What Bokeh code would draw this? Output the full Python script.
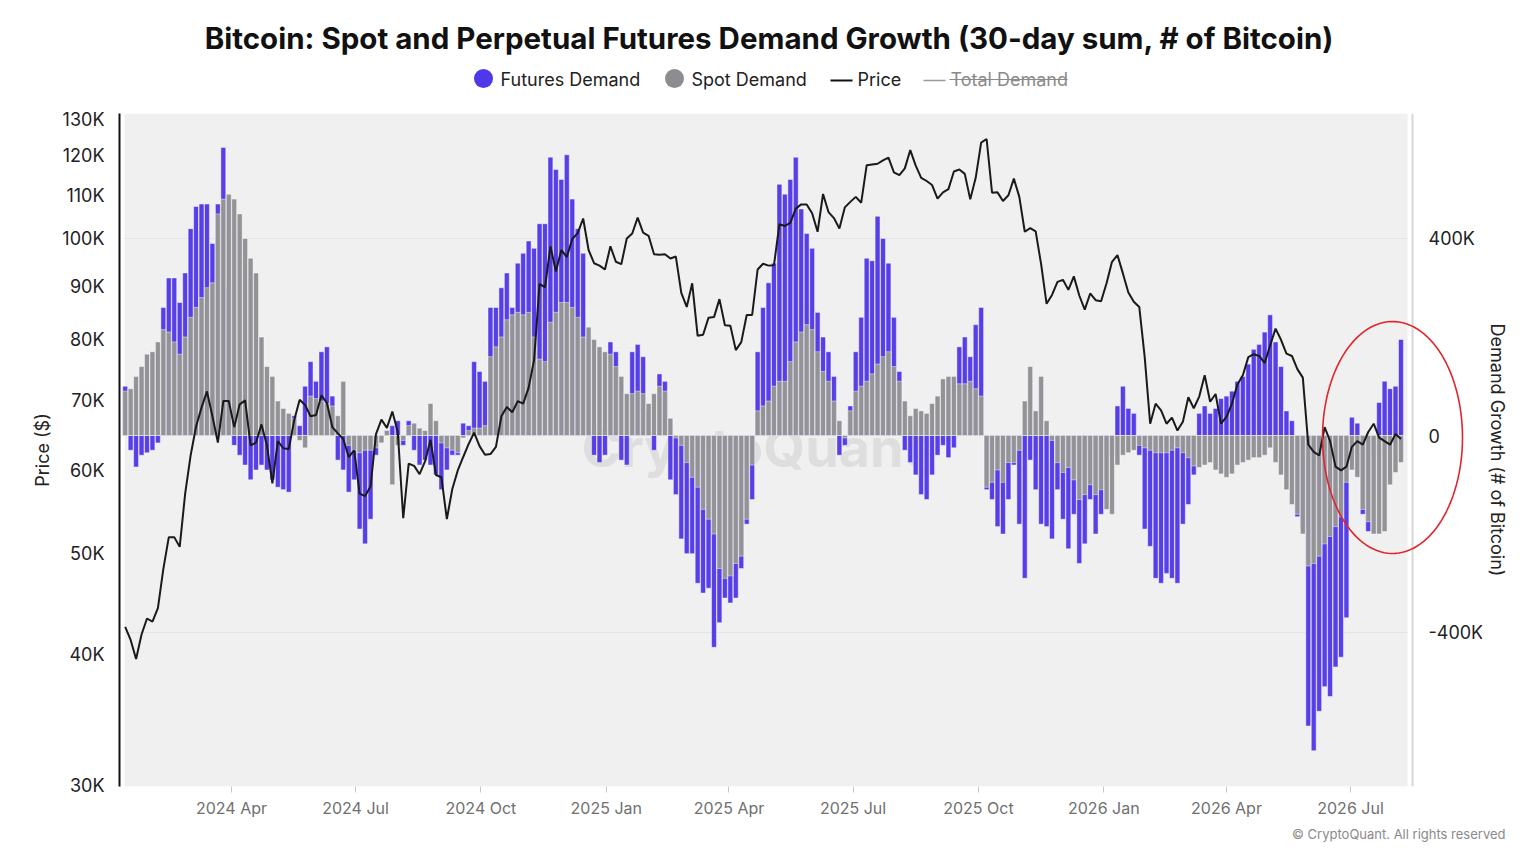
import numpy as np
import pandas as pd
from bokeh.plotting import figure
from bokeh.layouts import column
from bokeh.models import (Range1d, LinearAxis, LinearScale, FixedTicker, Label, Title,
                          PolyAnnotation, Arrow, BoxAnnotation, Span)
from bokeh.embed import file_html
from bokeh.resources import INLINE

# ---------------- data ----------------
START_DATE = "2024-01-14"
STEP_DAYS = 4

price_k = [
    42.5, 41.3, 39.6, 41.8, 43.3, 43.0, 44.3, 48.3, 51.8, 51.8, 50.7, 57.0, 62.0, 66.1, 68.9, 71.4,
    67.6, 63.8, 69.9, 69.9, 66.0, 69.4, 70.0, 63.4, 63.8, 66.4, 63.4, 58.3, 64.0, 63.0, 62.9, 67.0,
    70.1, 69.3, 67.6, 67.8, 70.8, 69.6, 66.0, 65.1, 64.3, 61.8, 62.7, 57.0, 56.7, 57.9, 65.0, 67.1,
    65.9, 68.3, 65.3, 54.0, 60.9, 60.6, 59.5, 61.2, 64.2, 59.4, 59.1, 53.9, 57.6, 60.0, 61.8, 63.6,
    65.2, 63.3, 62.1, 62.2, 63.2, 67.6, 69.0, 68.2, 69.9, 69.5, 72.0, 76.5, 90.5, 89.8, 98.3, 93.0,
    97.5, 96.0, 99.9, 101.2, 104.5, 97.5, 94.7, 94.2, 93.4, 98.3, 95.0, 94.5, 100.0, 101.1, 104.7, 101.3,
    100.6, 96.6, 96.5, 96.6, 95.7, 96.1, 88.7, 86.0, 90.6, 80.7, 80.9, 84.0, 84.1, 87.5, 82.6, 82.5,
    78.2, 79.6, 84.5, 84.5, 93.4, 94.6, 94.2, 94.3, 103.2, 102.8, 103.5, 106.8, 107.8, 107.8, 105.7, 101.5,
    110.3, 106.0, 104.6, 102.2, 107.1, 108.4, 109.6, 108.2, 117.5, 117.7, 117.9, 118.8, 119.5, 115.7, 115.0, 116.7,
    121.5, 117.4, 114.3, 113.5, 112.5, 109.2, 110.7, 111.5, 115.9, 116.4, 115.3, 109.0, 114.3, 123.5, 124.5, 110.6,
    110.7, 108.6, 110.0, 114.1, 109.6, 101.5, 102.3, 101.6, 94.5, 86.6, 88.3, 90.9, 91.3, 89.3, 92.0, 88.2,
    85.5, 88.6, 87.3, 87.1, 90.6, 95.0, 96.4, 92.6, 88.8, 87.0, 86.0, 77.0, 66.5, 69.5, 68.5, 66.5,
    67.4, 65.5, 66.8, 70.5, 68.8, 70.6, 74.0, 69.8, 71.0, 66.5, 67.5, 69.5, 72.5, 74.0, 77.0, 77.5,
    77.2, 76.0, 79.0, 82.0, 80.0, 77.6, 77.2, 75.0, 73.6, 63.5, 62.5, 62.0, 66.0, 64.0, 60.5, 60.0,
    60.5, 63.2, 64.0, 63.5, 65.3, 66.5, 64.5, 64.0, 63.5, 65.0, 64.3,
]

futures_k = [
    100, -30, -64, -40, -35, -30, -15, 260, 320, 320, 270, 330, 420, 465, 470, 470,
    390, 470, 585, 300, -20, -40, -60, -90, -70, -60, -70, -90, -105, -110, -115, 40,
    20, 100, 150, 110, 170, 180, 80, -50, -70, -115, -90, -190, -220, -170, -40, -10,
    10, 20, 30, -20, 30, -30, -60, -50, -60, -80, -110, -70, -40, -40, 25, 20,
    150, 130, 110, 260, 260, 300, 330, 260, 350, 370, 395, 380, 430, 430, 565, 540,
    520, 570, 480, 420, 370, 200, -40, -55, -40, 190, 170, -50, -60, 170, 185, 160,
    50, -30, 125, 110, -90, -120, -210, -240, -240, -300, -320, -310, -430, -380, -330, -340,
    -330, -270, -180, -130, 170, 260, 310, 350, 510, 490, 520, 565, 460, 410, 380, 250,
    200, 170, 120, -40, -20, 60, 170, 240, 360, 355, 445, 400, 350, 240, 130, -30,
    -55, -80, -120, -130, -80, -40, -20, -45, -25, 180, 200, 160, 225, 260, -110, -130,
    -185, -200, -130, -60, -180, -290, -50, -110, -180, -185, -210, -110, -170, -230, -160, -260,
    -220, -130, -200, -160, -90, -40, 60, 100, 55, 45, -40, -190, -225, -290, -300, -280,
    -290, -300, -180, -140, -80, 45, 60, 45, 55, 75, 80, 90, 110, 120, 145, 175,
    185, 210, 245, 190, 140, 50, 30, -165, -190, -590, -640, -560, -510, -530, -470, -450,
    -370, 37, 25, -160, -195, -40, 67, 110, 95, 100, 195,
]

spot_k = [
    90, 95, 120, 140, 165, 170, 190, 215, 210, 190, 165, 200, 240, 260, 280, 300,
    310, 450, 480, 490, 480, 450, 400, 360, 330, 200, 140, 120, 70, 55, 45, 35,
    -10, -25, 80, 75, 70, 65, 60, 40, 110, -20, -30, -35, -30, -30, -25, -15,
    10, -100, -20, -10, 20, 25, 15, 10, 65, 30, -15, -25, -30, -35, -5, 10,
    15, 15, 20, 160, 180, 200, 235, 245, 250, 245, 250, 200, 155, 150, 230, 250,
    270, 270, 260, 240, 200, 220, 195, 180, 170, 165, 140, 120, 85, 85, 90, 85,
    65, 85, 100, 90, 35, -5, -20, -55, -85, -105, -150, -170, -200, -270, -290, -285,
    -260, -245, -170, -60, 50, 60, 70, 100, 110, 110, 150, 190, 210, 225, 215, 170,
    130, 110, 70, 30, -5, 50, 90, 100, 110, 125, 145, 160, 170, 140, 110, 70,
    40, 55, 50, 45, 65, 80, 115, 120, 120, 105, 105, 110, 95, 80, -105, -95,
    -70, -95, -55, -55, -30, 70, 140, 50, 120, 30, -10, -55, -75, -65, -90, -130,
    -120, -100, -120, -110, -150, -160, -60, -40, -35, -30, -20, -25, -30, -35, -35, -35,
    -30, -25, -35, -45, -62, -65, -60, -55, -70, -78, -85, -78, -60, -55, -50, -45,
    -45, -40, -25, -55, -80, -110, -140, -160, -200, -265, -260, -245, -220, -205, -185, -165,
    -95, -70, -85, -150, -175, -200, -200, -195, -100, -75, -55,
]

left_ticks = [30000, 40000, 50000, 60000, 70000, 80000, 90000, 100000, 110000, 120000, 130000]
left_tick_labels = ["30K", "40K", "50K", "60K", "70K", "80K", "90K", "100K", "110K", "120K", "130K"]
right_ticks = [-400000, 0, 400000]
right_tick_labels = ["-400K", "0", "400K"]
x_tick_dates = ["2024-04-01", "2024-07-01", "2024-10-01", "2025-01-01", "2025-04-01",
                "2025-07-01", "2025-10-01", "2026-01-01", "2026-04-01", "2026-07-01"]
x_tick_labels = ["2024 Apr", "2024 Jul", "2024 Oct", "2025 Jan", "2025 Apr",
                 "2025 Jul", "2025 Oct", "2026 Jan", "2026 Apr", "2026 Jul"]

TITLE = "Bitcoin: Spot and Perpetual Futures Demand Growth (30-day sum, # of Bitcoin)"
SERIES = ["Futures Demand", "Spot Demand", "Price", "Total Demand"]
COPYRIGHT = "\u00a9 CryptoQuant. All rights reserved"

# ---------------- layout constants (page px) ----------------
W = 1533
HEAD_H = 100                                   # header strip (title + legend)
MAIN_H = 750
FL, FR, FT, FB = 119, 1482, 113, 786           # frame edges (page px)
BG_L, BG_R = 124, 1407                         # grey plot background
RIGHT_LINE_X = 1412
PX_PER_DAY = 1.363
FONT = "Inter"
BLUE = "#573fe8"
GRAY = "#929297"
LEG_BLUE = "#4f37ea"
LEG_GRAY = "#8c8c91"
DAY_MS = 86400000.0

dates = pd.date_range(START_DATE, periods=len(price_k), freq=f"{STEP_DAYS}D")
price = np.array(price_k) * 1000.0
futures = np.array(futures_k) * 1000.0
spot = np.array(spot_k) * 1000.0


def ms(t):
    return pd.Timestamp(t).value / 1e6


T0 = ms("2024-04-01") - (231 - FL) / PX_PER_DAY * DAY_MS   # time at frame left


def tx(px):
    """page x pixel -> datetime ms on the x range"""
    return T0 + (px - FL) / PX_PER_DAY * DAY_MS


def sx(px):
    return px - FL


def sy(py):
    return FB - py


# ================= header: title + legend =================
# (frames of a column are aligned, so the header frame spans FL..FR as well)
hd = figure(width=W, height=HEAD_H, x_range=Range1d(FL, FR), y_range=Range1d(HEAD_H, 0),
            output_backend="svg", toolbar_location=None,
            min_border_left=FL, min_border_right=W - FR, min_border_top=0, min_border_bottom=0,
            x_axis_location=None, y_axis_location=None, outline_line_color=None,
            background_fill_color="white", border_fill_color="white")
hd.xgrid.grid_line_color = None
hd.ygrid.grid_line_color = None

hd.add_layout(Label(x=769, y=37, text=TITLE, text_align="center", text_baseline="middle",
                    text_font=FONT, text_font_size="29.5px", text_font_style="bold",
                    text_color="#111111"))

hd.scatter(x=[483, 674], y=[78, 78], size=19, marker="circle",
           fill_color=[LEG_BLUE, LEG_GRAY], line_color=None)
hd.segment(x0=[830], y0=[80], x1=[852], y1=[80], line_color="#111111", line_width=2)
hd.segment(x0=[923], y0=[80], x1=[945], y1=[80], line_color="#9a9a9a", line_width=1.5)
for lx, s, c in zip([500, 691, 857, 950], SERIES, ["#222222", "#222222", "#222222", "#8a8a8a"]):
    hd.add_layout(Label(x=lx, y=79, text=s, text_align="left", text_baseline="middle",
                        text_font=FONT, text_font_size="18px", text_color=c))
hd.segment(x0=[949], y0=[79], x1=[1067], y1=[79], line_color="#8a8a8a", line_width=1.2)

# ================= main chart =================
P_TOP = 100000 * np.exp((238 - FT) / 454.0)     # log price axis: 100K at y=238
P_BOT = 100000 * np.exp((238 - FB) / 454.0)
D_TOP = (435 - FT) / 197.0 * 400000             # demand axis: 0 at y=435
D_BOT = (435 - FB) / 197.0 * 400000

p = figure(width=W, height=MAIN_H, x_axis_type="datetime", y_axis_type="log",
           x_range=Range1d(tx(FL), tx(FR)), y_range=Range1d(P_BOT, P_TOP),
           output_backend="svg", toolbar_location=None,
           min_border_left=FL, min_border_right=W - FR,
           min_border_top=FT - HEAD_H, min_border_bottom=HEAD_H + MAIN_H - FB,
           background_fill_color="white", border_fill_color="white",
           outline_line_color=None)
p.extra_y_ranges = {"d": Range1d(D_BOT, D_TOP)}
p.extra_y_scales = {"d": LinearScale()}
p.xgrid.grid_line_color = None
p.ygrid.grid_line_color = None

p.add_layout(BoxAnnotation(left=tx(BG_L), right=tx(BG_R), fill_color="#f0f0f0", fill_alpha=1.0,
                           line_color=None, level="underlay"))
for loc in (400000, -400000):
    p.add_layout(Arrow(end=None, x_start=tx(BG_L), x_end=tx(BG_R), y_start=loc, y_end=loc,
                       y_range_name="d", line_color="#e4e4e4", line_width=1, level="underlay"))
p.add_layout(Span(location=tx(RIGHT_LINE_X), dimension="height", line_color="#d6d6d6", line_width=2))

p.add_layout(Label(x=sx(752), y=sy(447), x_units="screen", y_units="screen",
                   text="CryptoQuant", text_align="center", text_baseline="middle",
                   text_font=FONT, text_font_size="54px", text_font_style="bold",
                   text_color="#dedede", level="underlay"))

bar_w = 3.6 * DAY_MS
p.vbar(x=dates, top=futures, bottom=0, width=bar_w, y_range_name="d",
       fill_color=BLUE, fill_alpha=1.0, line_color="white", line_alpha=0.45, line_width=1)
p.vbar(x=dates, top=spot, bottom=0, width=bar_w, y_range_name="d",
       fill_color=GRAY, fill_alpha=1.0, line_color="white", line_alpha=0.45, line_width=1)
p.line(x=dates, y=price, line_color="#1a1a1a", line_width=2)

# x axis
xa = p.xaxis[0]
x_tick_ms = [ms(d) for d in x_tick_dates]
xa.ticker = FixedTicker(ticks=x_tick_ms)
xa.major_label_overrides = {t: l for t, l in zip(x_tick_ms, x_tick_labels)}
xa.axis_line_color = None
xa.major_tick_line_color = "#c8c8c8"
xa.major_tick_out = 6
xa.major_tick_in = 0
xa.minor_tick_line_color = None
xa.major_label_text_font = FONT
xa.major_label_text_font_size = "16px"
xa.major_label_text_color = "#707070"
xa.major_label_standoff = 5

# left (price) axis
ya = p.yaxis[0]
ya.ticker = FixedTicker(ticks=left_ticks)
ya.major_label_overrides = {t: l for t, l in zip(left_ticks, left_tick_labels)}
ya.axis_line_color = "#111111"
ya.axis_line_width = 2
ya.major_tick_line_color = None
ya.minor_tick_line_color = None
ya.major_tick_out = 0
ya.major_tick_in = 0
ya.major_label_text_font = FONT
ya.major_label_text_font_size = "18px"
ya.major_label_text_color = "#222222"
ya.major_label_standoff = 15
ya.axis_label = "Price ($)"
ya.axis_label_text_font = FONT
ya.axis_label_text_font_size = "18px"
ya.axis_label_text_font_style = "normal"
ya.axis_label_text_color = "#222222"
ya.axis_label_standoff = 6

# right (demand) axis: title from a real axis, tick texts placed on the demand scale
ra = LinearAxis(y_range_name="d", ticker=FixedTicker(ticks=[]))
ra.axis_line_color = None
ra.major_tick_line_color = None
ra.minor_tick_line_color = None
ra.major_tick_out = 0
ra.major_tick_in = 0
ra.axis_label = "Demand Growth (# of Bitcoin)"
ra.axis_label_text_font = FONT
ra.axis_label_text_font_size = "18px"
ra.axis_label_text_font_style = "normal"
ra.axis_label_text_color = "#222222"
ra.axis_label_standoff = 4
p.add_layout(ra, "right")

for t, l in zip(right_ticks, right_tick_labels):
    p.add_layout(Label(x=tx(1428), y=t, y_range_name="d", text=l, text_align="left",
                       text_baseline="middle", text_font=FONT, text_font_size="18px",
                       text_color="#222222"))

p.add_layout(Title(text=COPYRIGHT, align="right", offset=-(1505 - FR), text_font=FONT,
                   text_font_size="13px", text_font_style="normal", text_color="#8a8a8a",
                   standoff=6), "below")

# red highlight ellipse
th = np.linspace(0, 2 * np.pi, 120)
p.add_layout(PolyAnnotation(xs=list(sx(1392) + 70 * np.cos(th)), ys=list(sy(437) + 116 * np.sin(th)),
                            xs_units="screen", ys_units="screen",
                            fill_color=None, fill_alpha=0, line_color="#e0262b",
                            line_alpha=1.0, line_width=1.6))

open("out.html", "w").write(file_html(column(hd, p, spacing=0), INLINE))
